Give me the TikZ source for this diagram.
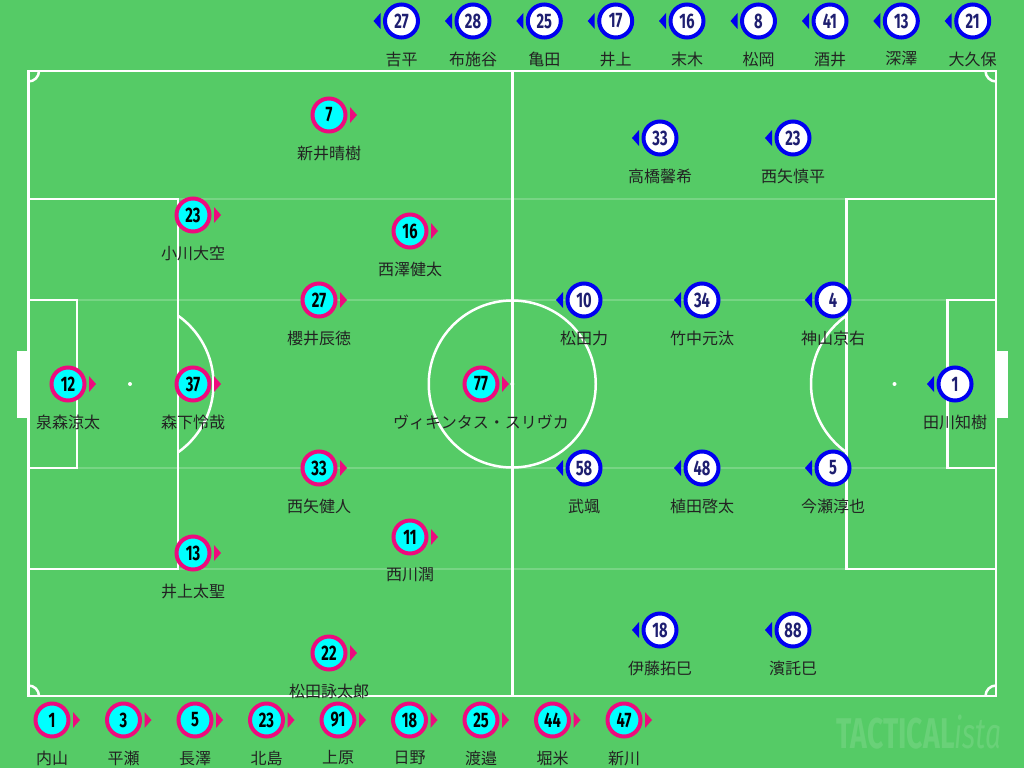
\documentclass[tikz,border=0pt]{standalone}
\usepackage{fontspec}
\newfontfamily\jpfont{Noto Sans CJK JP}
\newfontfamily\numfont[FakeStretch=0.7]{Fira Sans}
\newfontfamily\markfont[FakeStretch=0.66]{Fira Sans}
\definecolor{pitch}{HTML}{55CB66}
\definecolor{homepink}{HTML}{EE0A7E}
\definecolor{homecyan}{HTML}{00FFFF}
\definecolor{awayblue}{HTML}{0000F0}
\definecolor{awaynavy}{HTML}{1E1E70}
\definecolor{namegray}{HTML}{222222}

\begin{document}
\begin{tikzpicture}[x=1pt, y=-1pt,
  line/.style={white, line width=2.5pt},
  faint/.style={white, opacity=0.2, line width=2pt},
  player/.style={circle, line width=4pt, minimum size=33pt, inner sep=0pt, font=\numfont\bfseries\fontsize{21}{21}\selectfont},
  home/.style={player, draw=homepink, fill=homecyan, text=black},
  away/.style={player, draw=awayblue, fill=white, text=awaynavy},
  every label/.style={font=\jpfont\fontsize{16}{16}\selectfont, text=namegray, inner sep=0pt, yshift=-12pt}]
  \useasboundingbox (0,0) rectangle (1024,768);
  % Pitch
  \fill[pitch] (0,0) rectangle (1024,768);
  \foreach \yy in {199,300,468,569} \draw[faint] (28.5,\yy) -- (996,\yy);
  \draw[line] (28.5,71) rectangle (996,696);
  \draw[line] (512.25,71) -- (512.25,696);
  \draw[line] (512.25,384) circle[radius=83.5];
  \draw[line] (28.5,199) rectangle (178,569);
  \draw[line] (996,199) rectangle (846.5,569);
  \draw[line] (28.5,300) rectangle (77,468);
  \draw[line] (996,300) rectangle (947.5,468);
  \begin{scope}
    \clip (178,0) rectangle (512,768);
    \draw[line] (130,384) circle[radius=83.5];
  \end{scope}
  \begin{scope}
    \clip (512,0) rectangle (846.5,768);
    \draw[line] (894.5,384) circle[radius=83.5];
  \end{scope}
  \begin{scope}
    \clip (28.5,71) rectangle (996,696);
    \foreach \cx/\cy in {28.5/71, 996/71, 28.5/696, 996/696} \draw[line] (\cx,\cy) circle[radius=10.5];
  \end{scope}
  \fill[white] (130,384) circle[radius=2] (512.25,384) circle[radius=2] (894.5,384) circle[radius=2];
  \fill[white] (17,351) rectangle (28.5,418);
  \fill[white] (996,351) rectangle (1007.5,418);

  % Watermark
  \node[font=\markfont\fontsize{43}{43}\selectfont, text=pitch!88!white, anchor=base west, inner sep=0pt] (brand) at (836.7,748) {\bfseries TACTICAL\mdseries\itshape ista};

  % Home starters
  \node[home, label=below:泉森涼太] (hp12) at (68,384) {12};
  \node[home, label=below:森下怜哉] (hp37) at (193,384) {37};
  \node[home, label=below:小川大空] (hp23) at (193,215) {23};
  \node[home, label=below:井上太聖] (hp13) at (193,553) {13};
  \node[home, label=below:新井晴樹] (hp7) at (329,115) {7};
  \node[home, label=below:櫻井辰徳] (hp27) at (319,300) {27};
  \node[home, label=below:西矢健人] (hp33) at (319,468) {33};
  \node[home, label=below:松田詠太郎] (hp22) at (329,653) {22};
  \node[home, label=below:西澤健太] (hp16) at (410,231) {16};
  \node[home, label=below:西川潤] (hp11) at (410,537) {11};
  \node[home, label=below:ヴィキンタス・スリヴカ] (hp77) at (481,384) {77};

  % Away starters
  \node[away, label=below:田川知樹] (ap1) at (955,384) {1};
  \node[away, label=below:神山京右] (ap4) at (833,300) {4};
  \node[away, label=below:竹中元汰] (ap34) at (702,300) {34};
  \node[away, label=below:松田力] (ap10) at (584,300) {10};
  \node[away, label=below:今瀬淳也] (ap5) at (833,468) {5};
  \node[away, label=below:植田啓太] (ap48) at (702,468) {48};
  \node[away, label=below:武颯] (ap58) at (584,468) {58};
  \node[away, label=below:高橋馨希] (ap33) at (660,138) {33};
  \node[away, label=below:西矢慎平] (ap23) at (793,138) {23};
  \node[away, label=below:伊藤拓巳] (ap18) at (660,630) {18};
  \node[away, label=below:濱託巳] (ap88) at (793,630) {88};

  % Away bench (top)
  \node[away, label=below:吉平] (as27) at (401.5,21) {27};
  \node[away, label=below:布施谷] (as28) at (473,21) {28};
  \node[away, label=below:亀田] (as25) at (544.3,21) {25};
  \node[away, label=below:井上] (as17) at (615.7,21) {17};
  \node[away, label=below:末木] (as16) at (687,21) {16};
  \node[away, label=below:松岡] (as8) at (758.5,21) {8};
  \node[away, label=below:酒井] (as41) at (830,21) {41};
  \node[away, label=below:深澤] (as13) at (901.3,21) {13};
  \node[away, label=below:大久保] (as21) at (972.7,21) {21};

  % Home bench (bottom)
  \node[home, label=below:内山] (hs1) at (52,720) {1};
  \node[home, label=below:平瀬] (hs3) at (123.5,720) {3};
  \node[home, label=below:長澤] (hs5) at (195,720) {5};
  \node[home, label=below:北島] (hs23) at (266.5,720) {23};
  \node[home, label=below:上原] (hs91) at (338,720) {91};
  \node[home, label=below:日野] (hs18) at (409.5,720) {18};
  \node[home, label=below:渡邉] (hs25) at (481,720) {25};
  \node[home, label=below:堀米] (hs44) at (552.5,720) {44};
  \node[home, label=below:新川] (hs47) at (624,720) {47};

  % Direction markers
  \foreach \n in {hp12,hp37,hp23,hp13,hp7,hp27,hp33,hp22,hp16,hp11,hp77,hs1,hs3,hs5,hs23,hs91,hs18,hs25,hs44,hs47}
    \fill[homepink] ([xshift=2.5pt]\n.east) -- ++(0,8) -- ++(7,-8) -- ++(-7,-8) -- cycle;
  \foreach \n in {ap1,ap4,ap34,ap10,ap5,ap48,ap58,ap33,ap23,ap18,ap88,as27,as28,as25,as17,as16,as8,as41,as13,as21}
    \fill[awayblue] ([xshift=-2.5pt]\n.west) -- ++(0,8) -- ++(-7,-8) -- ++(7,-8) -- cycle;
\end{tikzpicture}
\end{document}
